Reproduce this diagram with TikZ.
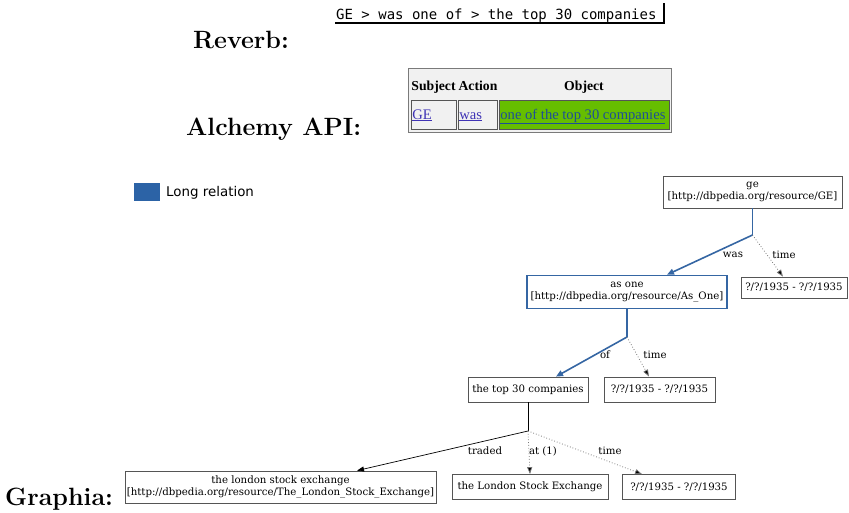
\documentclass[tikz,border=0pt]{standalone}
\usepackage{fontspec}
\usetikzlibrary{arrows.meta}
\newfontfamily\graphfont{DejaVu Serif}
\newfontfamily\tablefont{Liberation Serif}
\newfontfamily\legendfont{DejaVu Sans}
\newfontfamily\reverbfont{DejaVu Sans Mono}
\definecolor{relblue}{HTML}{3566A3}
\definecolor{legblue}{HTML}{2C63A6}
\definecolor{boxgray}{HTML}{555555}
\definecolor{dotgray}{HTML}{777777}
\definecolor{linkblue}{HTML}{3F33B5}
\definecolor{objgreen}{HTML}{66BE00}
\definecolor{objtext}{HTML}{1E4F96}
\definecolor{tablebg}{HTML}{F1F1F1}
\definecolor{tableline}{HTML}{7A7A7A}
\begin{document}
\begin{tikzpicture}[x=1pt,y=-1pt,
  title/.style={font=\fontsize{25}{29}\selectfont\bfseries, anchor=base west, inner sep=0pt},
  gnode/.style={draw=boxgray, line width=0.8pt, font=\graphfont\fontsize{10.2}{12.5}\selectfont, align=center, inner sep=0pt},
  elabel/.style={font=\graphfont\fontsize{10.2}{12.5}\selectfont, inner sep=0pt},
  rel/.style={draw=relblue, line width=1.6pt, -{Triangle[length=7pt,width=6pt]}},
  dotrel/.style={draw=dotgray, line width=0.8pt, dotted, -{Triangle[length=7pt,width=5pt,fill=black]}},
  plainrel/.style={draw=black, line width=0.7pt, -{Triangle[length=7pt,width=5pt]}},
  cell/.style={draw=boxgray, line width=0.8pt, anchor=north west, inner sep=1pt, font=\tablefont\fontsize{14.6}{16}\selectfont},
  thead/.style={font=\tablefont\bfseries\fontsize{13.7}{15}\selectfont, inner sep=0pt, anchor=base},
]
\useasboundingbox (0,0) rectangle (849,512);

% ---- Reverb
\node[font=\reverbfont\fontsize{14}{16}\selectfont, inner sep=0pt, anchor=base west] (reverb) at (336,19) {GE > was one of > the top 30 companies};
\coordinate (rvbl) at (335,23);
\coordinate (rvbr) at (664,23);
\coordinate (rvtr) at (664,3);
\draw[line width=2.2pt] (rvbl) -- (rvbr) -- (rvtr);
\node[title] (lreverb) at (193,48) {Reverb:};

% ---- Alchemy table
\node[title] (lalchemy) at (186,135) {Alchemy API:};
\node[draw=tableline, fill=tablebg, line width=1pt, anchor=north west, minimum width=263pt, minimum height=64pt, inner sep=0pt] (tbl) at (408,68) {};
\node[thead] (hsub) at (433.5,90) {Subject};
\node[thead] (hact) at (478,90) {Action};
\node[thead] (hobj) at (584,90) {Object};
\node[cell, minimum width=45pt, minimum height=29pt] (cge) at (411,100) {};
\node[cell, minimum width=39pt, minimum height=29pt] (cwas) at (458,100) {};
\node[cell, fill=objgreen, minimum width=170pt, minimum height=29pt] (cobj) at (499,100) {};
\node[cell, draw=none, anchor=base west, text=linkblue] (tge) at (411,119) {\underline{GE}};
\node[cell, draw=none, anchor=base west, text=linkblue] (twas) at (458,119) {\underline{was}};
\node[cell, draw=none, anchor=base west, text=objtext] (tobj) at (499,119) {\underline{one of the top 30 companies}};

% ---- Legend
\node[fill=legblue, minimum width=26pt, minimum height=18pt, inner sep=0pt, anchor=north west] (legbox) at (134,183) {};
\node[font=\legendfont\fontsize{13.4}{15}\selectfont, anchor=west, inner sep=0pt] (legtext) at (166,193) {Long relation};

% ---- Graph
\node[title] (lgraphia) at (5,505) {Graphia:};
\node[gnode, minimum width=179pt, minimum height=32pt] (ge) at (752.5,192) {ge\\{}[http://dbpedia.org/resource/GE]};
\node[gnode, draw=relblue, line width=1.6pt, minimum width=200pt, minimum height=33pt] (asone) at (627,292) {as one\\{}[http://dbpedia.org/resource/As\_One]};
\node[gnode, minimum width=106pt, minimum height=21pt] (time1) at (794,287.5) {?/?/1935 - ?/?/1935};
\node[gnode, minimum width=120pt, minimum height=25pt] (top30) at (528,389.5) {the top 30 companies};
\node[gnode, minimum width=111pt, minimum height=25pt] (time2) at (659.5,389.5) {?/?/1935 - ?/?/1935};
\node[gnode, minimum width=311pt, minimum height=32pt] (lse) at (280.5,487) {the london stock exchange\\{}[http://dbpedia.org/resource/The\_London\_Stock\_Exchange]};
\node[gnode, minimum width=156pt, minimum height=25pt] (LSE) at (530,487) {the London Stock Exchange};
\node[gnode, minimum width=113pt, minimum height=25pt] (time3) at (679,487) {?/?/1935 - ?/?/1935};

\coordinate (j1) at (752.5,235);
\coordinate (j2) at (627,337);
\coordinate (j3) at (528,431);

\draw[relblue, line width=1.6pt] (ge.south) -- (j1);
\draw[rel] (j1) -- (667,0 |- asone.north);
\draw[dotrel] (j1) -- (783,0 |- time1.north);
\node[elabel] (lwas) at (733,255) {was};
\node[elabel] (ltime1) at (784,255) {time};

\draw[relblue, line width=1.6pt] (asone.south) -- (j2);
\draw[rel] (j2) -- (556,0 |- top30.north);
\draw[dotrel] (j2) -- (649,0 |- time2.north);
\node[elabel] (lof) at (605,355) {of};
\node[elabel] (ltime2) at (655,355) {time};

\draw[black, line width=0.7pt] (top30.south) -- (j3);
\draw[plainrel] (j3) -- (357,0 |- lse.north);
\draw[dotrel] (j3) -- (LSE.north);
\draw[dotrel] (j3) -- (642,0 |- time3.north);
\node[elabel] (ltraded) at (485,451) {traded};
\node[elabel] (lat) at (543,451) {at (1)};
\node[elabel] (ltime3) at (610,451) {time};
\end{tikzpicture}
\end{document}
